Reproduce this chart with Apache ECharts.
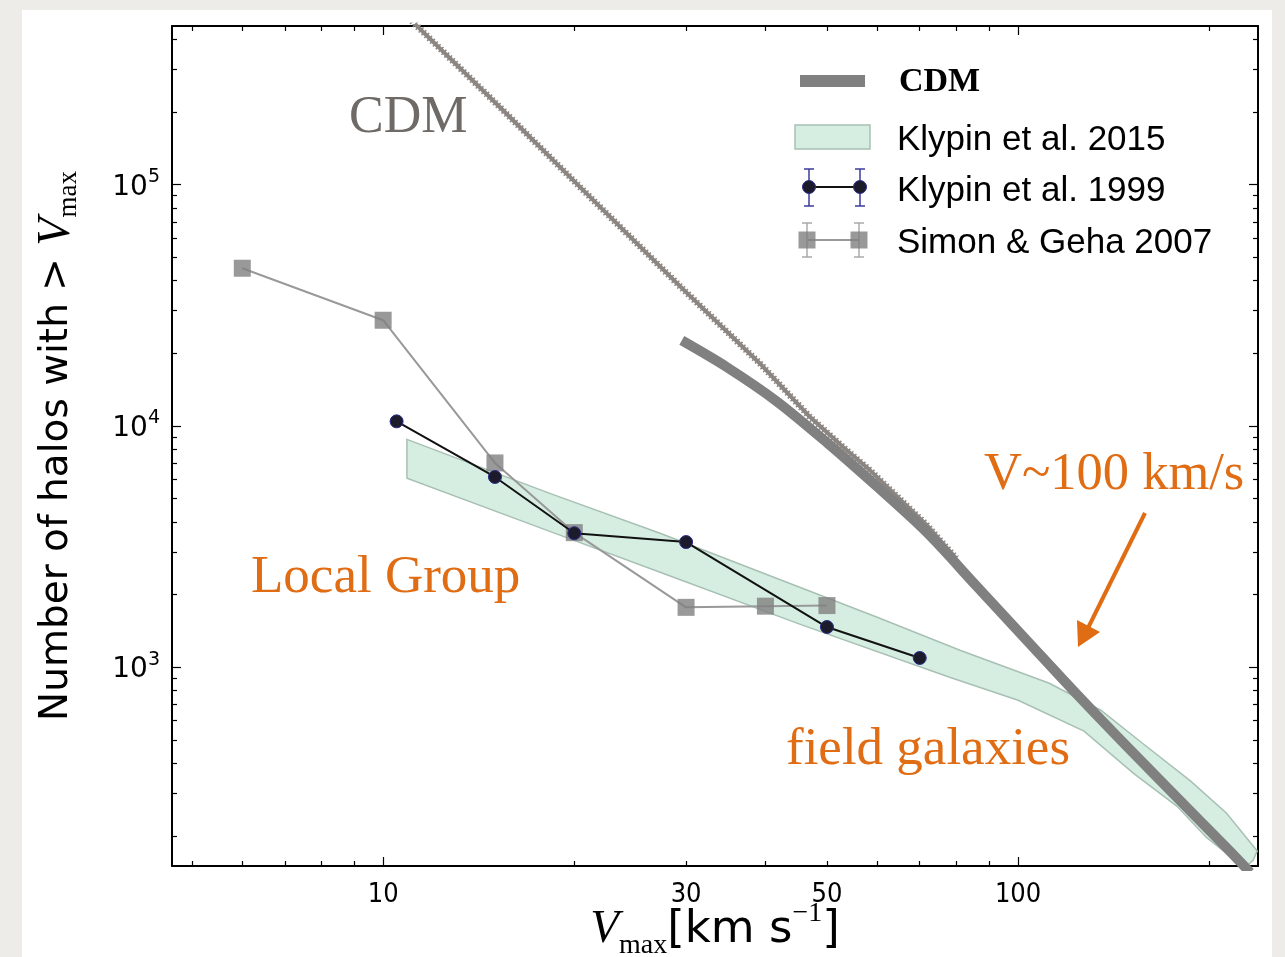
<!DOCTYPE html>
<html><head><meta charset="utf-8">
<script src="https://cdn.jsdelivr.net/npm/echarts@6/dist/echarts.min.js"></script>
<style>html,body{margin:0;padding:0;background:#eeece9;} #c{width:1285px;height:957px;}</style>
</head><body><div id="c"></div>
<script>
// ---- axis ticks / labels ----
const xTickLabels = [10, 30, 50, 100];
const xMajorTicks = [10, 100];
const xMinorTicks = [5, 6, 7, 8, 9, 20, 30, 40, 50, 60, 70, 80, 90, 200];
const yTickLabels = [1000, 10000, 100000];
const yMajorTicks = [1000, 10000, 100000];
const yMinorTicks = [200, 300, 400, 500, 600, 700, 800, 900,
  2000, 3000, 4000, 5000, 6000, 7000, 8000, 9000,
  20000, 30000, 40000, 50000, 60000, 70000, 80000, 90000,
  200000, 300000, 400000];
const xRange = [4.65, 238.7];
const yRange = [150, 454000];

// ---- series data ----
const cdmThick = [[29.54, 22590], [34.77, 17520], [41.69, 12630], [49.96, 8543], [59.9, 5616],
  [71.8, 3622], [86.1, 2163], [103.2, 1292], [123.7, 773], [148.3, 470],
  [177.8, 289], [213.2, 178], [232.0, 141]];
const cdmNbody = [[11.1, 476000], [15.29, 208600], [20.43, 97540], [29.36, 37840],
  [39.24, 18100], [47.02, 10880], [53.01, 8170], [58.46, 6542], [71.63, 3908], [79.88, 2826]];
const klypin2015Upper = [[10.9, 8790], [18.3, 5250], [27.3, 3590], [60, 1610], [81, 1175],
  [112, 858], [135, 663], [157, 484], [187, 337], [213, 248], [238, 173], [234.5, 158.5]];
const klypin2015Lower = [[229, 150], [213, 169], [198, 197], [178, 265], [152, 363], [127, 543],
  [100, 729], [78, 908], [45.4, 1505], [27.3, 2473], [18.3, 3655], [10.9, 6062]];
const klypin1999X = [10.5, 15, 20, 30, 50, 70];
const klypin1999Y = [10440, 6140, 3590, 3300, 1467, 1092];
const simonGehaX = [6, 10, 15, 20, 30, 40, 50];
const simonGehaY = [45000, 27400, 7020, 3610, 1770, 1790, 1800];

const ORANGE = '#e06c14';
const chart = echarts.init(document.getElementById('c'));

function xAxisDef(pos, ticks, len, withLabel, withLine) {
  return {
    type: 'log', position: pos, min: xRange[0], max: xRange[1], gridIndex: 0,
    axisLine: { show: withLine, onZero: false, lineStyle: { color: '#000', width: 2 } },
    axisTick: { show: true, inside: true, length: len, customValues: ticks, lineStyle: { color: '#000', width: 1.2 } },
    axisLabel: withLabel ? {
      show: true, customValues: xTickLabels, color: '#000', fontSize: 27,
      fontFamily: '"DejaVu Sans Condensed", "DejaVu Sans"', margin: 15,
      formatter: v => String(Math.round(v))
    } : { show: false },
    splitLine: { show: false },
    name: withLabel ? '{v|V}{sub|max}{t|[km s}{sup|\u22121}{t|]}' : '',
    nameLocation: 'middle', nameGap: 34, nameMoveOverlap: false,
    nameTextStyle: {
      rich: {
        v: { fontFamily: 'Liberation Serif', fontStyle: 'italic', fontSize: 47, lineHeight: 60, color: '#000' },
        sub: { fontFamily: 'Liberation Serif', fontSize: 28, lineHeight: 24, verticalAlign: 'bottom', color: '#000' },
        t: { fontFamily: '"DejaVu Sans"', fontSize: 45, lineHeight: 60, color: '#000' },
        sup: { fontFamily: 'Liberation Serif', fontSize: 28, lineHeight: 24, verticalAlign: 'top', color: '#000' }
      }
    }
  };
}
function yAxisDef(pos, ticks, len, withLabel, withLine) {
  return {
    type: 'log', position: pos, min: yRange[0], max: yRange[1], gridIndex: 0,
    axisLine: { show: withLine, onZero: false, lineStyle: { color: '#000', width: 2 } },
    axisTick: { show: true, inside: true, length: len, customValues: ticks, lineStyle: { color: '#000', width: 1.2 } },
    axisLabel: withLabel ? {
      show: true, customValues: yTickLabels, margin: 12,
      formatter: v => '{b|10}{s|' + Math.round(Math.log10(v)) + '}',
      rich: {
        b: { fontSize: 28, lineHeight: 34, verticalAlign: 'bottom', color: '#000', fontFamily: '"DejaVu Sans"' },
        s: { fontSize: 19, lineHeight: 20, verticalAlign: 'top', color: '#000', fontFamily: '"DejaVu Sans"' }
      }
    } : { show: false },
    splitLine: { show: false },
    name: withLabel ? '{t|Number of halos with > }{v|V}{sub|max}' : '',
    nameLocation: 'middle', nameGap: 90, nameRotate: 90, nameMoveOverlap: false,
    nameTextStyle: {
      rich: {
        t: { fontFamily: '"DejaVu Sans"', fontSize: 39, lineHeight: 50, color: '#000' },
        v: { fontFamily: 'Liberation Serif', fontStyle: 'italic', fontSize: 46, lineHeight: 50, color: '#000' },
        sub: { fontFamily: 'Liberation Serif', fontSize: 27, lineHeight: 24, verticalAlign: 'bottom', color: '#000' }
      }
    }
  };
}

const legendEls = [
  { type: 'line', shape: { x1: 800, y1: 81, x2: 865, y2: 81 }, style: { stroke: '#808080', lineWidth: 12 } },
  { type: 'text', style: { x: 899, y: 82, text: 'CDM', font: 'bold 34px "Liberation Serif"', fill: '#000', verticalAlign: 'middle' } },
  { type: 'rect', shape: { x: 795, y: 125, width: 75, height: 24 }, style: { fill: '#d6eee2', stroke: '#a8c0b4', lineWidth: 1.5 } },
  { type: 'text', style: { x: 897, y: 140, text: 'Klypin et al. 2015', font: '35px "Liberation Sans"', fill: '#000', verticalAlign: 'middle' } },
  { type: 'line', shape: { x1: 809, y1: 169, x2: 809, y2: 206 }, style: { stroke: '#3b3b9c', lineWidth: 1.5 } },
  { type: 'line', shape: { x1: 804, y1: 169, x2: 814, y2: 169 }, style: { stroke: '#3b3b9c', lineWidth: 1.5 } },
  { type: 'line', shape: { x1: 804, y1: 206, x2: 814, y2: 206 }, style: { stroke: '#3b3b9c', lineWidth: 1.5 } },
  { type: 'line', shape: { x1: 860, y1: 169, x2: 860, y2: 206 }, style: { stroke: '#3b3b9c', lineWidth: 1.5 } },
  { type: 'line', shape: { x1: 855, y1: 169, x2: 865, y2: 169 }, style: { stroke: '#3b3b9c', lineWidth: 1.5 } },
  { type: 'line', shape: { x1: 855, y1: 206, x2: 865, y2: 206 }, style: { stroke: '#3b3b9c', lineWidth: 1.5 } },
  { type: 'line', shape: { x1: 809, y1: 187, x2: 860, y2: 187 }, style: { stroke: '#111', lineWidth: 2 } },
  { type: 'circle', shape: { cx: 809, cy: 187, r: 6.5 }, style: { fill: '#1b1b2b', stroke: '#2c2c8c', lineWidth: 1 } },
  { type: 'circle', shape: { cx: 860, cy: 187, r: 6.5 }, style: { fill: '#1b1b2b', stroke: '#2c2c8c', lineWidth: 1 } },
  { type: 'text', style: { x: 897, y: 191, text: 'Klypin et al. 1999', font: '35px "Liberation Sans"', fill: '#000', verticalAlign: 'middle' } },
  { type: 'line', shape: { x1: 807, y1: 223, x2: 807, y2: 257 }, style: { stroke: '#aaaaaa', lineWidth: 1.5 } },
  { type: 'line', shape: { x1: 802, y1: 223, x2: 812, y2: 223 }, style: { stroke: '#aaaaaa', lineWidth: 1.5 } },
  { type: 'line', shape: { x1: 802, y1: 257, x2: 812, y2: 257 }, style: { stroke: '#aaaaaa', lineWidth: 1.5 } },
  { type: 'line', shape: { x1: 859, y1: 223, x2: 859, y2: 257 }, style: { stroke: '#aaaaaa', lineWidth: 1.5 } },
  { type: 'line', shape: { x1: 854, y1: 223, x2: 864, y2: 223 }, style: { stroke: '#aaaaaa', lineWidth: 1.5 } },
  { type: 'line', shape: { x1: 854, y1: 257, x2: 864, y2: 257 }, style: { stroke: '#aaaaaa', lineWidth: 1.5 } },
  { type: 'line', shape: { x1: 807, y1: 240, x2: 859, y2: 240 }, style: { stroke: '#999', lineWidth: 2 } },
  { type: 'rect', shape: { x: 798.5, y: 231.5, width: 17, height: 17 }, style: { fill: 'rgba(128,128,128,0.8)' } },
  { type: 'rect', shape: { x: 850.5, y: 231.5, width: 17, height: 17 }, style: { fill: 'rgba(128,128,128,0.8)' } },
  { type: 'text', style: { x: 897, y: 243, text: 'Simon & Geha 2007', font: '35px "Liberation Sans"', fill: '#000', verticalAlign: 'middle' } }
];

const annotEls = [
  { type: 'text', style: { x: 349, y: 118, text: 'CDM', font: '52px "Liberation Serif"', fill: '#6f6a66', verticalAlign: 'middle' } },
  { type: 'text', style: { x: 251, y: 578, text: 'Local Group', font: '53px "Liberation Serif"', fill: ORANGE, verticalAlign: 'middle' } },
  { type: 'text', style: { x: 786, y: 750, text: 'field galaxies', font: '53px "Liberation Serif"', fill: ORANGE, verticalAlign: 'middle' } },
  { type: 'text', style: { x: 984, y: 475, text: 'V~100 km/s', font: '52.5px "Liberation Serif"', fill: ORANGE, verticalAlign: 'middle' } },
  { type: 'line', shape: { x1: 1145, y1: 513, x2: 1087, y2: 630 }, style: { stroke: ORANGE, lineWidth: 4 } },
  { type: 'polygon', shape: { points: [[1078, 647], [1077, 620], [1100, 632]] }, style: { fill: ORANGE } }
];

const option = {
  animation: false,
  backgroundColor: 'transparent',
  grid: { left: 172, top: 26, width: 1086, height: 840, containLabel: false, outerBoundsMode: 'none' },
  xAxis: [
    xAxisDef('bottom', xMajorTicks, 9, true, true),
    xAxisDef('bottom', xMinorTicks, 5, false, false),
    xAxisDef('top', xMajorTicks, 9, false, true),
    xAxisDef('top', xMinorTicks, 5, false, false)
  ],
  yAxis: [
    yAxisDef('left', yMajorTicks, 9, true, true),
    yAxisDef('left', yMinorTicks, 5, false, false),
    yAxisDef('right', yMajorTicks, 9, false, true),
    yAxisDef('right', yMinorTicks, 5, false, false)
  ],
  graphic: [
    { type: 'rect', z: -100, shape: { x: 22, y: 10, width: 1250, height: 960 }, style: { fill: '#ffffff' } },
    { type: 'group', z: 100, children: legendEls },
    { type: 'group', z: 100, children: annotEls }
  ],
  series: [
    {
      name: 'Klypin et al. 2015', type: 'custom', xAxisIndex: 0, yAxisIndex: 0, clip: true, z: 1,
      data: [[20, 2000]],
      renderItem: (params, api) => {
        const pts = klypin2015Upper.concat(klypin2015Lower).map(p => api.coord(p));
        return { type: 'polygon', shape: { points: pts }, style: { fill: '#d6eee2', stroke: '#a8c0b4', lineWidth: 1.5 } };
      }
    },
    {
      name: 'CDM N-body', type: 'line', xAxisIndex: 0, yAxisIndex: 0, data: cdmNbody, showSymbol: false,
      lineStyle: { color: '#8c8682', width: 4 }, z: 2, clip: true
    },
    {
      name: 'CDM N-body texture', type: 'line', xAxisIndex: 0, yAxisIndex: 0, data: cdmNbody, showSymbol: false,
      lineStyle: { color: '#8c8682', width: 7, type: [1.5, 2.5] }, z: 2, clip: true
    },
    {
      name: 'CDM', type: 'line', xAxisIndex: 0, yAxisIndex: 0, data: cdmThick, showSymbol: false, smooth: 0.3,
      lineStyle: { color: '#808080', width: 10 }, z: 3, clip: true
    },
    {
      name: 'Simon & Geha 2007', type: 'line', xAxisIndex: 0, yAxisIndex: 0,
      data: simonGehaX.map((x, i) => [x, simonGehaY[i]]),
      symbol: 'rect', symbolSize: 17,
      itemStyle: { color: 'rgba(128,128,128,0.8)' },
      lineStyle: { color: '#999999', width: 2 }, z: 4
    },
    {
      name: 'Klypin et al. 1999', type: 'line', xAxisIndex: 0, yAxisIndex: 0,
      data: klypin1999X.map((x, i) => [x, klypin1999Y[i]]),
      symbol: 'circle', symbolSize: 13,
      itemStyle: { color: '#1b1b2b', borderColor: '#2c2c8c', borderWidth: 1 },
      lineStyle: { color: '#111111', width: 2 }, z: 5
    }
  ]
};
chart.setOption(option);
</script>
</body></html>
